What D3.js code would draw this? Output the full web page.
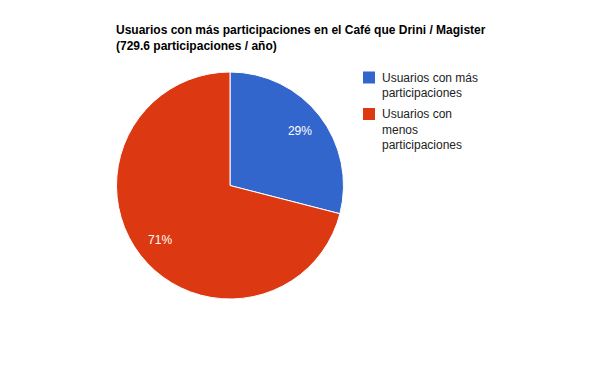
<!DOCTYPE html>
<html>
<head>
<meta charset="utf-8">
<script src="https://cdn.jsdelivr.net/npm/d3@7"></script>
<style>
  body { margin: 0; background: #fff; }
  text { font-family: Arial, "Liberation Sans", sans-serif; }
</style>
</head>
<body>
<script>
var width = 600, height = 371;

var titleLines = ["Usuarios con más participaciones en el Café que Drini / Magister",
                  "(729.6 participaciones / año)"];
var categories = ["Usuarios con más participaciones", "Usuarios con menos participaciones"];
var legendLines = [["Usuarios con más", "participaciones"],
                   ["Usuarios con", "menos", "participaciones"]];
var values = [29, 71];
var colors = ["#3366cc", "#dc3912"];

var cx = 230, cy = 185.5, radius = 113.5;

var svg = d3.select("body").append("svg")
    .attr("width", width)
    .attr("height", height);

// title
svg.append("g").selectAll("text")
    .data(titleLines)
  .enter().append("text")
    .attr("x", 116)
    .attr("y", function(d, i) { return 34 + i * 16; })
    .style("font-size", "12px")
    .style("font-weight", "bold")
    .attr("fill", "#000")
    .text(function(d) { return d; });

var pie = d3.pie().sort(null).value(function(d) { return d; });
var arcs = pie(values);
var total = d3.sum(values);

var arc = d3.arc().innerRadius(0).outerRadius(radius);
var labelArc = d3.arc().innerRadius(radius * 0.78).outerRadius(radius * 0.78);

var g = svg.append("g")
    .attr("transform", "translate(" + cx + "," + cy + ")");

g.selectAll(".slice")
    .data(arcs)
  .enter().append("path")
    .attr("class", "slice")
    .attr("d", arc)
    .attr("fill", function(d, i) { return colors[i]; })
    .attr("stroke", "#fff")
    .attr("stroke-width", 1);

g.selectAll(".lbl")
    .data(arcs)
  .enter().append("text")
    .attr("class", "lbl")
    .attr("transform", function(d) { return "translate(" + labelArc.centroid(d) + ")"; })
    .attr("text-anchor", "middle")
    .attr("dy", "0.35em")
    .style("font-size", "12px")
    .attr("fill", "#fff")
    .text(function(d) { return Math.round(d.value / total * 100) + "%"; });

// legend
var legendTop = [71.5, 108];
var legend = svg.append("g").selectAll("g")
    .data(categories)
  .enter().append("g")
    .attr("transform", function(d, i) { return "translate(363," + legendTop[i] + ")"; });

legend.append("rect")
    .attr("width", 12)
    .attr("height", 12)
    .attr("fill", function(d, i) { return colors[i]; });

legend.each(function(d, i) {
  d3.select(this).selectAll("text")
      .data(legendLines[i])
    .enter().append("text")
      .attr("x", 19)
      .attr("y", function(t, j) { return 10 + j * 15.5; })
      .style("font-size", "12px")
      .attr("fill", "#222")
      .text(function(t) { return t; });
});
</script>
</body>
</html>
